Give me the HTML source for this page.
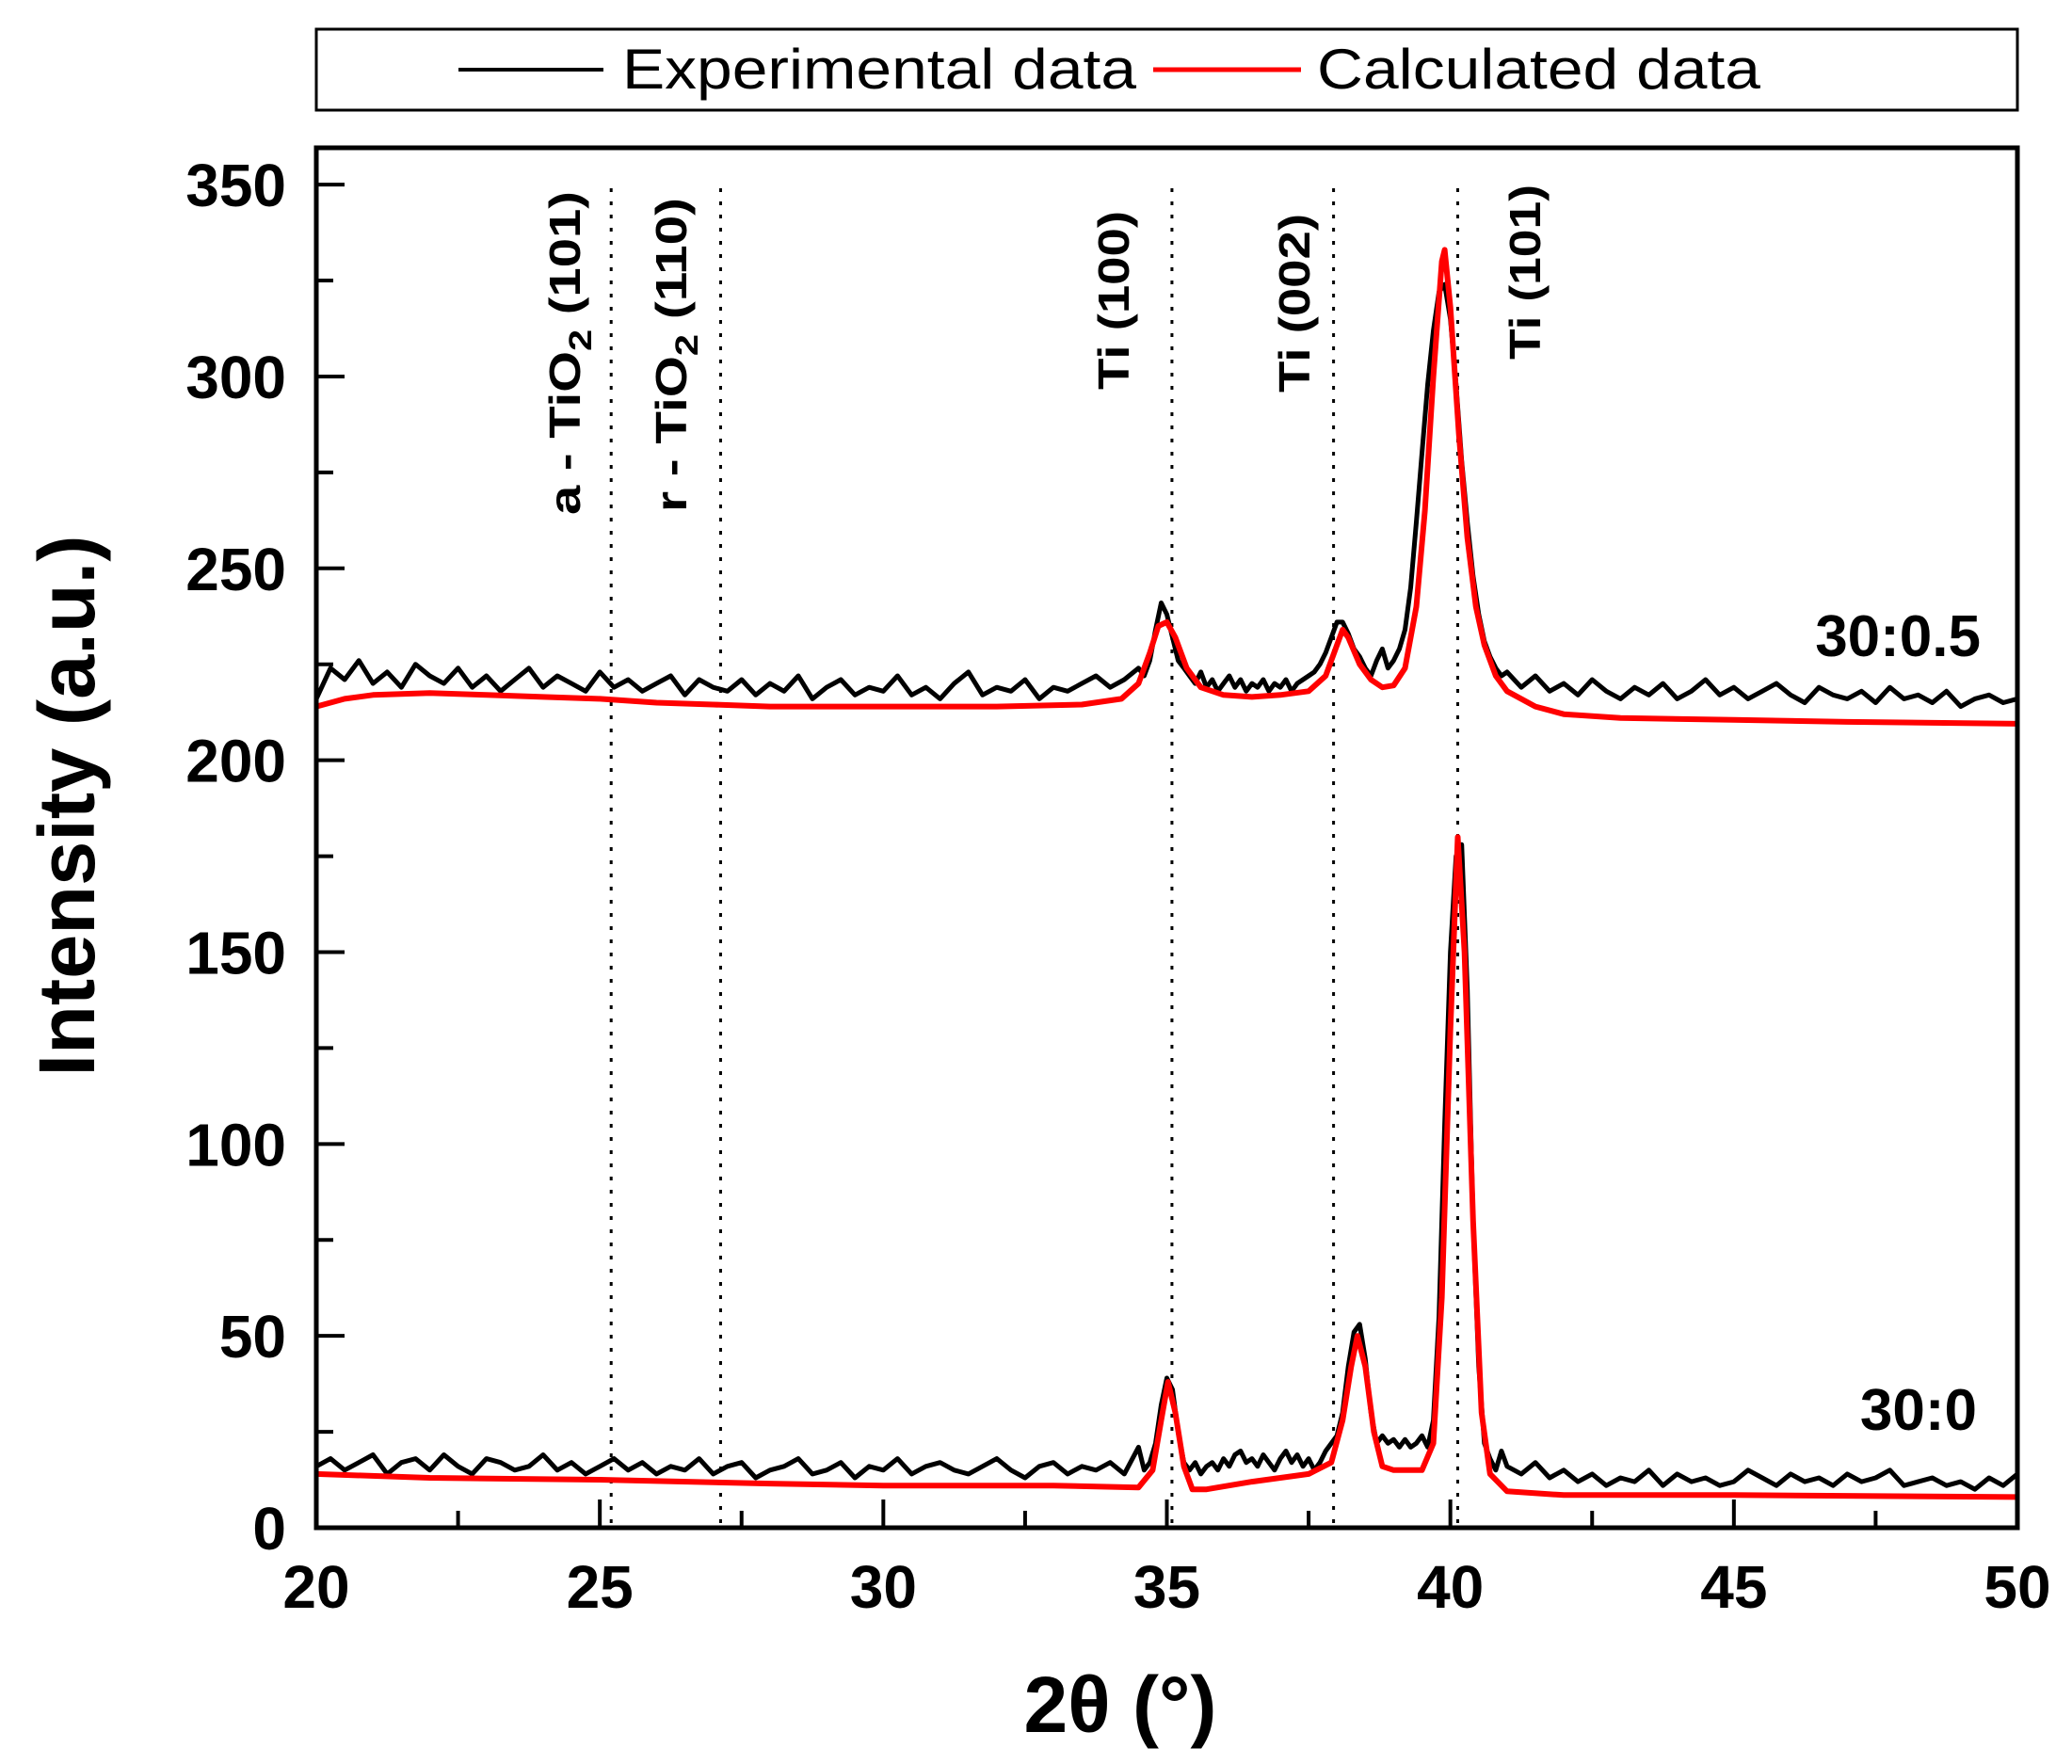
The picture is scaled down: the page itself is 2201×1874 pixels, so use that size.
<!DOCTYPE html>
<html><head><meta charset="utf-8"><style>
html,body{margin:0;padding:0;background:#fff;}
svg{display:block;font-family:"Liberation Sans",Arial,sans-serif;}
</style></head><body>
<svg id="chart" xmlns="http://www.w3.org/2000/svg" width="2201" height="1874" viewBox="0 0 2201 1874">
<rect x="0" y="0" width="2201" height="1874" fill="#fff"/>
<g>
<rect x="336" y="31" width="1807" height="86" fill="none" stroke="#000" stroke-width="3"/>
<line x1="487" y1="74" x2="641" y2="74" stroke="#000" stroke-width="4"/>
<text x="661" y="94" font-size="60" textLength="546" lengthAdjust="spacingAndGlyphs">Experimental data</text>
<line x1="1225" y1="74" x2="1382" y2="74" stroke="#f00" stroke-width="5"/>
<text x="1399" y="94" font-size="60" textLength="471" lengthAdjust="spacingAndGlyphs">Calculated data</text>
</g>
<g id="ref-lines"></g>
<g id="series"></g>
<g id="axes"></g>
<rect x="336" y="157" width="1807" height="1466" fill="none" stroke="#000" stroke-width="5"/>
<g font-weight="bold" font-size="46">
<text transform="translate(616,547) rotate(-90)" textLength="344" lengthAdjust="spacingAndGlyphs">a - TiO<tspan font-size="34" dy="12">2</tspan><tspan dy="-12"> (101)</tspan></text>
<text transform="translate(729,544) rotate(-90)" textLength="334" lengthAdjust="spacingAndGlyphs">r - TiO<tspan font-size="34" dy="12">2</tspan><tspan dy="-12"> (110)</tspan></text>
<text transform="translate(1199,414) rotate(-90)" textLength="190" lengthAdjust="spacingAndGlyphs">Ti (100)</text>
<text transform="translate(1391,417) rotate(-90)" textLength="190" lengthAdjust="spacingAndGlyphs">Ti (002)</text>
<text transform="translate(1636,382) rotate(-90)" textLength="186" lengthAdjust="spacingAndGlyphs">Ti (101)</text>
</g>
<text x="2104" y="697" font-size="62" font-weight="bold" text-anchor="end">30:0.5</text>
<text x="2100" y="1519" font-size="62" font-weight="bold" text-anchor="end">30:0</text>
<text transform="translate(100,856) rotate(-90)" font-size="84" font-weight="bold" text-anchor="middle" textLength="575" lengthAdjust="spacingAndGlyphs">Intensity (a.u.)</text>
<text x="1190" y="1840" font-size="84" font-weight="bold" text-anchor="middle">2θ (°)</text>
</svg>
<script>
// ---- data ----
const xTicks = [20,25,30,35,40,45,50];
const yTicks = [0,50,100,150,200,250,300,350];
const refPositions = [25.2,27.13,35.09,37.94,40.13];
const refNames = ['ref-a-tio2-101','ref-r-tio2-110','ref-ti-100','ref-ti-002','ref-ti-101'];

const exp0Seg1 = [16,18,15,17,19,14,17,18,15,19,16,14,18,17,15,16,19,15,17,14,16,18,15,17,14,16,15,18,14,16,17,13,15,16,18,14,15,17,13,16,15,18,14,16,17,15,14,16,18,15,13,16,17,14,16,15,17,14,21];
const exp0Seg2 = [15,17,22,32,39,36,25,17,15,17,14,16,17,15,18,16,19,20,17,18,16,19,17,15,18,20,17,19,16,18,15,17,20,22,24,30,42,51,53,44,30,22,24,22,23,21,23,21,22,24,21,28,55,105,150,175,178,140,80,42,22,18,15,20,16];
const exp0Seg3 = [14,17,13,15,12,14,11,13,12,15,11,14,12,13,11,12,15,13,11,14,12,13,11,14,12,13,15,11,12,13,11,12,10,13,11,14];

const exp5Seg1 = [216,224,221,226,220,223,219,225,222,220,224,219,222,218,221,224,219,222,220,218,223,219,221,218,220,222,217,221,219,218,221,217,220,218,222,216,219,221,217,219,218,222,217,219,216,220,223,217,219,218,221,216,219,218,220,222,219,221,224];
const exp5Seg2 = [222,226,234,241,238,232,226,224,222,220,223,219,221,218,220,222,219,221,218,220,219,221,218,220,219,221,218,220,221,222,223,225,228,232,236,236,233,229,227,224,222,226,229,224,226,229,234,245,262,280,298,312,322,324,315,298,278,262,248,238,231,227,224,222,223];
const exp5Seg3 = [219,222,218,220,217,221,218,216,219,217,220,216,218,221,217,219,216,218,220,217,215,219,217,216,218,215,219,216,217,215,218,214,216,217,215,216];

const calc0X = [20,22,25,28,30,33,34.5,34.75,34.9,35.02,35.15,35.3,35.45,35.7,36.5,37.5,37.9,38.1,38.25,38.36,38.5,38.65,38.8,39,39.5,39.7,39.85,40,40.13,40.25,40.4,40.55,40.7,41,42,45,50];
const calc0Y = [14,13,12.5,11.5,11,11,10.5,15,28,38,30,16,10,10,12,14,17,28,42,50,42,25,16,15,15,22,60,130,180,150,80,30,14,9.5,8.5,8.5,8];
const calc5X = [20,20.5,21,22,23,24,25,26,27,28,30,32,33.5,34.2,34.5,34.7,34.85,35,35.15,35.35,35.6,36,36.5,37,37.5,37.8,38,38.1,38.2,38.4,38.6,38.8,39,39.2,39.4,39.55,39.7,39.85,39.9,40,40.15,40.3,40.45,40.6,40.8,41,41.5,42,43,45,47,50];
const calc5Y = [214,216,217,217.5,217,216.5,216,215,214.5,214,214,214,214.5,216,220,228,235,236,232,224,219,217,216.5,217,218,222,230,234,232,225,221,219,219.5,224,240,265,300,330,333,318,285,258,240,230,222,218,214,212,211,210.5,210,209.5];

// ---- scales ----
const L=336,R=2143,T=157,B=1623;
const X0=20,X1=50,Y0=0,Y1=359.6;
function sx(v){return L+(v-X0)/(X1-X0)*(R-L);}
function sy(v){return B-(v-Y0)/(Y1-Y0)*(B-T);}
const NS='http://www.w3.org/2000/svg';
function mk(tag,parent){const e=document.createElementNS(NS,tag);parent.appendChild(e);return e;}

function grid(a,b,step){const o=[];for(let v=a;v<=b+1e-9;v+=step)o.push(Math.round(v*100)/100);return o;}
const gx1=grid(20,34.5,0.25), gx2=grid(34.6,41.0,0.1), gx3=grid(41.25,50,0.25);
const exp0X=gx1.concat(gx2,gx3), exp0Y=exp0Seg1.concat(exp0Seg2,exp0Seg3);
const exp5X=gx1.concat(gx2,gx3), exp5Y=exp5Seg1.concat(exp5Seg2,exp5Seg3);

// ---- reference lines ----
const refG=document.getElementById('ref-lines');
refPositions.forEach((p,i)=>{
  const l=mk('line',refG);
  
  
  l.setAttribute('x1',sx(p));l.setAttribute('x2',sx(p));
  l.setAttribute('y1',200);l.setAttribute('y2',B);
  l.setAttribute('stroke','#000');l.setAttribute('stroke-width','3');
  l.setAttribute('stroke-dasharray','4 10');
});

// ---- series ----
const serG=document.getElementById('series');
function path(xs,ys,color,w,name){
  const p=mk('path',serG);
  
  
  let d='';
  for(let i=0;i<Math.min(xs.length,ys.length);i++){d+=(i?'L':'M')+sx(xs[i]).toFixed(1)+','+sy(ys[i]).toFixed(1);}
  p.setAttribute('d',d);p.setAttribute('fill','none');p.setAttribute('stroke',color);
  p.setAttribute('stroke-width',w);p.setAttribute('stroke-linejoin','round');
}
path(exp5X,exp5Y,'#000',5,'experimental-30-0.5');
path(exp0X,exp0Y,'#000',5,'experimental-30-0');
path(calc5X,calc5Y,'#f00',6,'calculated-30-0.5');
path(calc0X,calc0Y,'#f00',6,'calculated-30-0');

// ---- axes ----
const axG=document.getElementById('axes');
xTicks.forEach(v=>{
  const t=mk('line',axG);
  
  
  t.setAttribute('x1',sx(v));t.setAttribute('x2',sx(v));t.setAttribute('y1',B);t.setAttribute('y2',B-30);
  t.setAttribute('stroke','#000');t.setAttribute('stroke-width','4');
  const s=mk('text',axG);
  
  
  s.setAttribute('x',sx(v));s.setAttribute('y',1708);s.setAttribute('text-anchor','middle');
  s.setAttribute('font-size','64');s.setAttribute('font-weight','bold');s.textContent=v;
  if(v<50){
    const m=mk('line',axG);
    
    
    m.setAttribute('x1',sx(v+2.5));m.setAttribute('x2',sx(v+2.5));m.setAttribute('y1',B);m.setAttribute('y2',B-18);
    m.setAttribute('stroke','#000');m.setAttribute('stroke-width','4');
  }
});
yTicks.forEach(v=>{
  const t=mk('line',axG);
  
  
  t.setAttribute('x1',L);t.setAttribute('x2',L+30);t.setAttribute('y1',sy(v));t.setAttribute('y2',sy(v));
  t.setAttribute('stroke','#000');t.setAttribute('stroke-width','4');
  const s=mk('text',axG);
  
  
  s.setAttribute('x',304);s.setAttribute('y',sy(v)+23);s.setAttribute('text-anchor','end');
  s.setAttribute('font-size','64');s.setAttribute('font-weight','bold');s.textContent=v;
  if(v+25<Y1){
    const m=mk('line',axG);
    
    
    m.setAttribute('x1',L);m.setAttribute('x2',L+18);m.setAttribute('y1',sy(v+25));m.setAttribute('y2',sy(v+25));
    m.setAttribute('stroke','#000');m.setAttribute('stroke-width','4');
  }
});
</script>
</body></html>
